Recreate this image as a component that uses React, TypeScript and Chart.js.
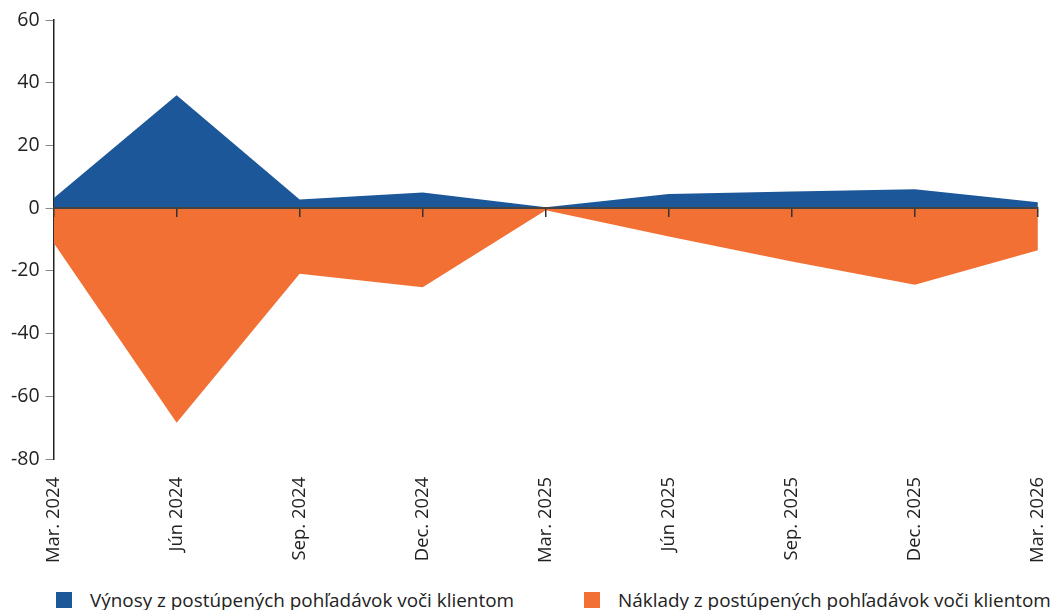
import React, { useEffect, useRef } from "react";
import { Chart, registerables } from "chart.js";

Chart.register(...registerables);

const categories = [
  "Mar. 2024",
  "Jún 2024",
  "Sep. 2024",
  "Dec. 2024",
  "Mar. 2025",
  "Jún 2025",
  "Sep. 2025",
  "Dec. 2025",
  "Mar. 2026",
];

const vynosy = [3.2, 36, 2.8, 5.0, 0.3, 4.5, 5.3, 6.0, 1.9];
const naklady = [-11, -68.4, -20.9, -25.2, -0.7, -9.0, -17.0, -24.4, -13.4];

const seriesNames = [
  "Výnosy z postúpených pohľadávok voči klientom",
  "Náklady z postúpených pohľadávok voči klientom",
];

const yMin = -80;
const yMax = 60;
const yStep = 20;

const BLUE = "#1c5799";
const ORANGE = "#f27033";
const colors = [BLUE, ORANGE];
const FONT = "'Open Sans', 'DejaVu Sans', sans-serif";

export default function App() {
  const ref = useRef<HTMLCanvasElement | null>(null);

  useEffect(() => {
    if (!ref.current) return;
    const chart = new Chart(ref.current, {
      type: "line",
      data: {
        labels: categories,
        datasets: [
          {
            label: seriesNames[0],
            data: vynosy,
            backgroundColor: BLUE,
            borderColor: BLUE,
            borderWidth: 0,
            pointRadius: 0,
            fill: "origin",
            tension: 0,
          },
          {
            label: seriesNames[1],
            data: naklady,
            backgroundColor: ORANGE,
            borderColor: ORANGE,
            borderWidth: 0,
            pointRadius: 0,
            fill: "origin",
            tension: 0,
          },
        ],
      },
      options: {
        animation: false,
        responsive: true,
        maintainAspectRatio: false,
        layout: { padding: { left: 5, right: 0, top: 20, bottom: 4 } },
        plugins: {
          legend: { display: false },
          tooltip: { enabled: false },
        },
        scales: {
          x: {
            type: "category",
            offset: false,
            grid: { display: false, drawTicks: false },
            border: { display: false },
            ticks: {
              maxRotation: 90,
              minRotation: 90,
              autoSkip: false,
              padding: 18,
              color: "#222",
              font: { family: FONT, size: 18.4 },
            },
          },
          x2: {
            type: "category",
            offset: false,
            position: { y: 0 },
            grid: {
              display: true,
              drawOnChartArea: false,
              drawTicks: true,
              tickLength: 8,
              color: "#333",
              lineWidth: 1.5,
              z: 2,
            },
            border: { display: true, color: "#444", width: 2, z: 2 },
            ticks: { display: false },
          },
          y: {
            min: yMin,
            max: yMax,
            grid: {
              display: true,
              drawOnChartArea: false,
              drawTicks: true,
              tickLength: 8,
              color: "#888",
            },
            border: { display: true, color: "#222", width: 1.5 },
            ticks: {
              stepSize: yStep,
              padding: 6,
              color: "#222",
              font: { family: FONT, size: 19.5 },
            },
          },
        },
      },
    });
    return () => chart.destroy();
  }, []);

  return (
    <div
      style={{
        position: "fixed",
        left: 0,
        top: 0,
        width: 1051,
        height: 610,
        background: "#fff",
        fontFamily: FONT,
        overflow: "hidden",
      }}
    >
      <div style={{ position: "absolute", left: 0, top: 0, width: 1078, height: 585 }}>
        <canvas ref={ref} />
      </div>
      {seriesNames.map((name, i) => (
        <div
          key={name}
          style={{
            position: "absolute",
            left: i === 0 ? 56 : 584,
            top: 590,
            height: 20,
            display: "flex",
            alignItems: "center",
            whiteSpace: "nowrap",
            fontSize: 18.9,
            color: "#222",
          }}
        >
          <span
            style={{
              display: "inline-block",
              width: 16,
              height: 16,
              background: colors[i],
              marginRight: 18,
            }}
          />
          <span>{name}</span>
        </div>
      ))}
    </div>
  );
}
